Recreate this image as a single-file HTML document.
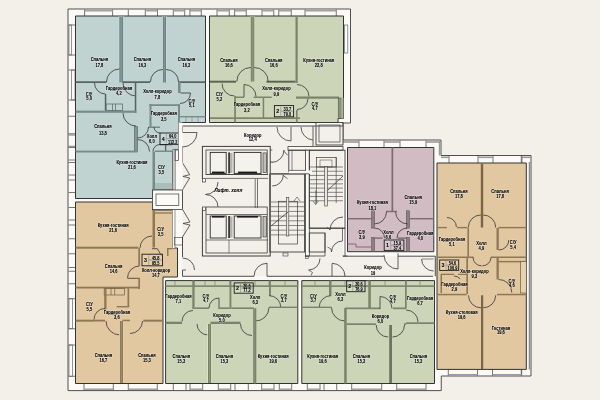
<!DOCTYPE html>
<html><head><meta charset="utf-8"><style>html,body{margin:0;padding:0;background:#f3f0e9;overflow:hidden}svg{display:block}</style></head>
<body><svg width="600" height="400" viewBox="0 0 600 400"><rect width="600" height="400" fill="#f3f0e9"/><polygon points="68,9 350.5,9 350.5,123 343,123 343,140 441,140 441,155.5 531,155.5 531,376 441.25,376 441.25,390.6 68,390.6" fill="#fbfaf6" stroke="#505050" stroke-width="1"/><line x1="84.6" y1="9.5" x2="84.6" y2="16" stroke="#555" stroke-width="0.8"/><line x1="112.6" y1="9.5" x2="112.6" y2="16" stroke="#555" stroke-width="0.8"/><line x1="128.3" y1="9.5" x2="128.3" y2="16" stroke="#555" stroke-width="0.8"/><line x1="145.3" y1="9.5" x2="145.3" y2="16" stroke="#555" stroke-width="0.8"/><line x1="157.5" y1="9.5" x2="157.5" y2="16" stroke="#555" stroke-width="0.8"/><line x1="173.3" y1="9.5" x2="173.3" y2="16" stroke="#555" stroke-width="0.8"/><line x1="184.7" y1="9.5" x2="184.7" y2="16" stroke="#555" stroke-width="0.8"/><line x1="189.9" y1="9.5" x2="189.9" y2="16" stroke="#555" stroke-width="0.8"/><line x1="201.3" y1="9.5" x2="201.3" y2="16" stroke="#555" stroke-width="0.8"/><line x1="217" y1="9.5" x2="217" y2="16" stroke="#555" stroke-width="0.8"/><line x1="229.3" y1="9.5" x2="229.3" y2="16" stroke="#555" stroke-width="0.8"/><line x1="234.6" y1="9.5" x2="234.6" y2="16" stroke="#555" stroke-width="0.8"/><line x1="246.25" y1="9.5" x2="246.25" y2="16" stroke="#555" stroke-width="0.8"/><line x1="262" y1="9.5" x2="262" y2="16" stroke="#555" stroke-width="0.8"/><line x1="273.75" y1="9.5" x2="273.75" y2="16" stroke="#555" stroke-width="0.8"/><line x1="278.75" y1="9.5" x2="278.75" y2="16" stroke="#555" stroke-width="0.8"/><line x1="291.25" y1="9.5" x2="291.25" y2="16" stroke="#555" stroke-width="0.8"/><line x1="305" y1="9.5" x2="305" y2="16" stroke="#555" stroke-width="0.8"/><line x1="336.25" y1="9.5" x2="336.25" y2="16" stroke="#555" stroke-width="0.8"/><line x1="84.6" y1="10.8" x2="112.6" y2="10.8" stroke="#9a9a9a" stroke-width="1.4"/><line x1="145.3" y1="10.8" x2="157.5" y2="10.8" stroke="#9a9a9a" stroke-width="1.4"/><line x1="173.3" y1="10.8" x2="184.7" y2="10.8" stroke="#9a9a9a" stroke-width="1.4"/><line x1="189.9" y1="10.8" x2="201.3" y2="10.8" stroke="#9a9a9a" stroke-width="1.4"/><line x1="217" y1="10.8" x2="229.3" y2="10.8" stroke="#9a9a9a" stroke-width="1.4"/><line x1="234.6" y1="10.8" x2="246.25" y2="10.8" stroke="#9a9a9a" stroke-width="1.4"/><line x1="262" y1="10.8" x2="273.75" y2="10.8" stroke="#9a9a9a" stroke-width="1.4"/><line x1="278.75" y1="10.8" x2="291.25" y2="10.8" stroke="#9a9a9a" stroke-width="1.4"/><line x1="305" y1="10.8" x2="336.25" y2="10.8" stroke="#9a9a9a" stroke-width="1.4"/><line x1="68.5" y1="25" x2="75.5" y2="25" stroke="#555" stroke-width="0.8"/><line x1="68.5" y1="55" x2="75.5" y2="55" stroke="#555" stroke-width="0.8"/><line x1="68.5" y1="70" x2="75.5" y2="70" stroke="#555" stroke-width="0.8"/><line x1="68.5" y1="100" x2="75.5" y2="100" stroke="#555" stroke-width="0.8"/><line x1="68.5" y1="116.25" x2="75.5" y2="116.25" stroke="#555" stroke-width="0.8"/><line x1="68.5" y1="133.75" x2="75.5" y2="133.75" stroke="#555" stroke-width="0.8"/><line x1="68.5" y1="135" x2="75.5" y2="135" stroke="#555" stroke-width="0.8"/><line x1="68.5" y1="146.25" x2="75.5" y2="146.25" stroke="#555" stroke-width="0.8"/><line x1="68.5" y1="147.5" x2="75.5" y2="147.5" stroke="#555" stroke-width="0.8"/><line x1="68.5" y1="160" x2="75.5" y2="160" stroke="#555" stroke-width="0.8"/><line x1="68.5" y1="162.5" x2="75.5" y2="162.5" stroke="#555" stroke-width="0.8"/><line x1="68.5" y1="175" x2="75.5" y2="175" stroke="#555" stroke-width="0.8"/><line x1="68.5" y1="180" x2="75.5" y2="180" stroke="#555" stroke-width="0.8"/><line x1="68.5" y1="192.5" x2="75.5" y2="192.5" stroke="#555" stroke-width="0.8"/><line x1="68.5" y1="207.5" x2="75.5" y2="207.5" stroke="#555" stroke-width="0.8"/><line x1="68.5" y1="220" x2="75.5" y2="220" stroke="#555" stroke-width="0.8"/><line x1="68.5" y1="225" x2="75.5" y2="225" stroke="#555" stroke-width="0.8"/><line x1="68.5" y1="238.75" x2="75.5" y2="238.75" stroke="#555" stroke-width="0.8"/><line x1="68.5" y1="253.75" x2="75.5" y2="253.75" stroke="#555" stroke-width="0.8"/><line x1="68.5" y1="267.5" x2="75.5" y2="267.5" stroke="#555" stroke-width="0.8"/><line x1="68.5" y1="271.25" x2="75.5" y2="271.25" stroke="#555" stroke-width="0.8"/><line x1="68.5" y1="283.75" x2="75.5" y2="283.75" stroke="#555" stroke-width="0.8"/><line x1="68.5" y1="298.75" x2="75.5" y2="298.75" stroke="#555" stroke-width="0.8"/><line x1="68.5" y1="328.75" x2="75.5" y2="328.75" stroke="#555" stroke-width="0.8"/><line x1="68.5" y1="345" x2="75.5" y2="345" stroke="#555" stroke-width="0.8"/><line x1="68.5" y1="376.25" x2="75.5" y2="376.25" stroke="#555" stroke-width="0.8"/><rect x="69" y="25" width="2.4" height="30" fill="none" stroke="#666" stroke-width="0.7"/><rect x="71.4" y="70" width="3.6" height="30" fill="none" stroke="#666" stroke-width="0.7"/><rect x="69" y="298.75" width="3.4" height="30" fill="none" stroke="#666" stroke-width="0.7"/><rect x="69" y="345" width="3.4" height="31.25" fill="none" stroke="#666" stroke-width="0.7"/><line x1="84" y1="383.5" x2="84" y2="390.3" stroke="#555" stroke-width="0.8"/><line x1="113.3" y1="383.5" x2="113.3" y2="390.3" stroke="#555" stroke-width="0.8"/><line x1="128.3" y1="383.5" x2="128.3" y2="390.3" stroke="#555" stroke-width="0.8"/><line x1="157.3" y1="383.5" x2="157.3" y2="390.3" stroke="#555" stroke-width="0.8"/><line x1="173.3" y1="383.5" x2="173.3" y2="390.3" stroke="#555" stroke-width="0.8"/><line x1="186" y1="383.5" x2="186" y2="390.3" stroke="#555" stroke-width="0.8"/><line x1="190" y1="383.5" x2="190" y2="390.3" stroke="#555" stroke-width="0.8"/><line x1="202.7" y1="383.5" x2="202.7" y2="390.3" stroke="#555" stroke-width="0.8"/><line x1="218.3" y1="383.5" x2="218.3" y2="390.3" stroke="#555" stroke-width="0.8"/><line x1="230.7" y1="383.5" x2="230.7" y2="390.3" stroke="#555" stroke-width="0.8"/><line x1="235" y1="383.5" x2="235" y2="390.3" stroke="#555" stroke-width="0.8"/><line x1="248.3" y1="383.5" x2="248.3" y2="390.3" stroke="#555" stroke-width="0.8"/><line x1="261.7" y1="383.5" x2="261.7" y2="390.3" stroke="#555" stroke-width="0.8"/><line x1="274" y1="383.5" x2="274" y2="390.3" stroke="#555" stroke-width="0.8"/><line x1="279.3" y1="383.5" x2="279.3" y2="390.3" stroke="#555" stroke-width="0.8"/><line x1="291.7" y1="383.5" x2="291.7" y2="390.3" stroke="#555" stroke-width="0.8"/><line x1="307.3" y1="383.5" x2="307.3" y2="390.3" stroke="#555" stroke-width="0.8"/><line x1="320" y1="383.5" x2="320" y2="390.3" stroke="#555" stroke-width="0.8"/><line x1="324" y1="383.5" x2="324" y2="390.3" stroke="#555" stroke-width="0.8"/><line x1="336.7" y1="383.5" x2="336.7" y2="390.3" stroke="#555" stroke-width="0.8"/><line x1="351.7" y1="383.5" x2="351.7" y2="390.3" stroke="#555" stroke-width="0.8"/><line x1="381.7" y1="383.5" x2="381.7" y2="390.3" stroke="#555" stroke-width="0.8"/><line x1="396.7" y1="383.5" x2="396.7" y2="390.3" stroke="#555" stroke-width="0.8"/><line x1="426" y1="383.5" x2="426" y2="390.3" stroke="#555" stroke-width="0.8"/><line x1="84" y1="389.2" x2="113.3" y2="389.2" stroke="#9a9a9a" stroke-width="1.4"/><line x1="128.3" y1="389.2" x2="157.3" y2="389.2" stroke="#9a9a9a" stroke-width="1.4"/><line x1="190" y1="389.2" x2="202.7" y2="389.2" stroke="#9a9a9a" stroke-width="1.4"/><line x1="218.3" y1="389.2" x2="230.7" y2="389.2" stroke="#9a9a9a" stroke-width="1.4"/><line x1="261.7" y1="389.2" x2="274" y2="389.2" stroke="#9a9a9a" stroke-width="1.4"/><line x1="279.3" y1="389.2" x2="291.7" y2="389.2" stroke="#9a9a9a" stroke-width="1.4"/><line x1="307.3" y1="389.2" x2="320" y2="389.2" stroke="#9a9a9a" stroke-width="1.4"/><line x1="351.7" y1="389.2" x2="381.7" y2="389.2" stroke="#9a9a9a" stroke-width="1.4"/><line x1="396.7" y1="389.2" x2="426" y2="389.2" stroke="#9a9a9a" stroke-width="1.4"/><rect x="344.4" y="25" width="3.4" height="28" fill="#fbfaf6" stroke="#666" stroke-width="0.7"/><line x1="359" y1="140.5" x2="359" y2="147.5" stroke="#555" stroke-width="0.8"/><line x1="384" y1="140.5" x2="384" y2="147.5" stroke="#555" stroke-width="0.8"/><line x1="400" y1="140.5" x2="400" y2="147.5" stroke="#555" stroke-width="0.8"/><line x1="426" y1="140.5" x2="426" y2="147.5" stroke="#555" stroke-width="0.8"/><line x1="343" y1="142" x2="359" y2="142" stroke="#9a9a9a" stroke-width="1.6"/><line x1="384" y1="142" x2="400" y2="142" stroke="#9a9a9a" stroke-width="1.6"/><line x1="426" y1="142" x2="441" y2="142" stroke="#9a9a9a" stroke-width="1.6"/><line x1="439.5" y1="140.5" x2="439.5" y2="155.5" stroke="#9a9a9a" stroke-width="1.4"/><line x1="449" y1="155.8" x2="449" y2="163" stroke="#555" stroke-width="0.8"/><line x1="478" y1="155.8" x2="478" y2="163" stroke="#555" stroke-width="0.8"/><line x1="493" y1="155.8" x2="493" y2="163" stroke="#555" stroke-width="0.8"/><line x1="522" y1="155.8" x2="522" y2="163" stroke="#555" stroke-width="0.8"/><line x1="441" y1="157.3" x2="449" y2="157.3" stroke="#9a9a9a" stroke-width="1.6"/><line x1="478" y1="157.3" x2="493" y2="157.3" stroke="#9a9a9a" stroke-width="1.6"/><line x1="522" y1="157.3" x2="531" y2="157.3" stroke="#9a9a9a" stroke-width="1.6"/><line x1="529.4" y1="162" x2="529.4" y2="369.5" stroke="#8a8a8a" stroke-width="1.3"/><line x1="521.25" y1="155.8" x2="521.25" y2="163" stroke="#555" stroke-width="0.8"/><line x1="521.25" y1="369.4" x2="521.25" y2="376" stroke="#555" stroke-width="0.8"/><line x1="448.3" y1="369.4" x2="448.3" y2="376" stroke="#555" stroke-width="0.8"/><line x1="477.5" y1="369.4" x2="477.5" y2="376" stroke="#555" stroke-width="0.8"/><line x1="492.5" y1="369.4" x2="492.5" y2="376" stroke="#555" stroke-width="0.8"/><line x1="521.7" y1="369.4" x2="521.7" y2="376" stroke="#555" stroke-width="0.8"/><line x1="448.3" y1="374.8" x2="477.5" y2="374.8" stroke="#9a9a9a" stroke-width="1.6"/><line x1="492.5" y1="374.8" x2="521.7" y2="374.8" stroke="#9a9a9a" stroke-width="1.6"/><polygon points="182.5,126 343,126 343,256.2 435.3,256.2 435.3,276.3 182.5,276.3" fill="#f3f0ea" stroke="none" stroke-width="1"/><polygon points="75.5,16 205.5,16 205.5,122.5 178.5,122.5 178.5,150 172.5,150 172.5,190 152.5,190 152.5,198.5 75.5,198.5" fill="#c1d3d0" stroke="#333333" stroke-width="1"/><polygon points="209.5,16 343.5,16 343.5,118.5 338,118.5 338,122.5 209.5,122.5" fill="#cdd5b9" stroke="#333333" stroke-width="1"/><polygon points="75.5,202 152.5,202 152.5,210 172.5,210 172.5,248 177.5,248 177.5,277 163,277 163,383.5 75.5,383.5" fill="#e2c8a0" stroke="#333333" stroke-width="1"/><polygon points="347.5,147.5 433.8,147.5 433.8,251.7 347.5,251.7" fill="#d1bcc3" stroke="#333333" stroke-width="1"/><polygon points="437,163 526.3,163 526.3,369.4 437,369.4" fill="#e2c8a0" stroke="#333333" stroke-width="1"/><polygon points="165.6,280.6 297.8,280.6 297.8,383.5 165.6,383.5" fill="#cdd5b9" stroke="#333333" stroke-width="1"/><polygon points="301.8,280.6 434.5,280.6 434.5,383.5 301.8,383.5" fill="#cdd5b9" stroke="#333333" stroke-width="1"/><rect x="118.75" y="16.5" width="5.15" height="66" fill="#d8e6e4" stroke="none" stroke-width="1"/><rect x="119.55" y="16.5" width="3.55" height="66" fill="#7f9794" stroke="none" stroke-width="1"/><rect x="119.55" y="16.5" width="0.6" height="66" fill="#627674" stroke="none" stroke-width="1"/><rect x="122.5" y="16.5" width="0.6" height="66" fill="#627674" stroke="none" stroke-width="1"/><rect x="162.1" y="16.5" width="4.75" height="66" fill="#d8e6e4" stroke="none" stroke-width="1"/><rect x="162.9" y="16.5" width="3.15" height="66" fill="#7f9794" stroke="none" stroke-width="1"/><rect x="162.9" y="16.5" width="0.6" height="66" fill="#627674" stroke="none" stroke-width="1"/><rect x="165.45" y="16.5" width="0.6" height="66" fill="#627674" stroke="none" stroke-width="1"/><rect x="75.5" y="81.3" width="31" height="1.7" fill="#55625f" stroke="none" stroke-width="1"/><rect x="122.6" y="81.3" width="27.4" height="1.7" fill="#55625f" stroke="none" stroke-width="1"/><rect x="179" y="81.3" width="26.5" height="1.7" fill="#55625f" stroke="none" stroke-width="1"/><path d="M106.5,82 A13,13 0 0 1 119.5,69" stroke="#333333" stroke-width="0.8" fill="none"/><path d="M150.4,82 A12.5,12.5 0 0 1 162.9,69.5" stroke="#333333" stroke-width="0.8" fill="none"/><path d="M166.05,69.5 A12.5,12.5 0 0 1 178.55,82" stroke="#333333" stroke-width="0.8" fill="none"/><path d="M136,96 A13,13 0 0 1 123,83" stroke="#333333" stroke-width="0.8" fill="none"/><path d="M105.5,94 A11,11 0 0 1 94.5,83" stroke="#333333" stroke-width="0.8" fill="none"/><rect x="104.8" y="94" width="1.5" height="16.6" fill="#55625f" stroke="none" stroke-width="1"/><rect x="134.8" y="83" width="1.5" height="30" fill="#55625f" stroke="none" stroke-width="1"/><rect x="75.5" y="110.6" width="60.8" height="2.2" fill="#778b88" stroke="none" stroke-width="1"/><rect x="106" y="104" width="16.6" height="6.6" fill="none" stroke="#55625f" stroke-width="0.7"/><line x1="112.5" y1="104" x2="112.5" y2="110.6" stroke="#55625f" stroke-width="0.7"/><line x1="115.5" y1="104" x2="115.5" y2="110.6" stroke="#55625f" stroke-width="0.7"/><path d="M136,126 A13,13 0 0 1 123,113" stroke="#333333" stroke-width="0.8" fill="none"/><rect x="134.5" y="126.5" width="3" height="25" fill="#7f9794" stroke="#4a4a4a" stroke-width="0.5"/><rect x="75.5" y="150.6" width="62" height="1.9" fill="#778b88" stroke="none" stroke-width="1"/><rect x="178" y="82" width="2.6" height="11" fill="#778b88" stroke="none" stroke-width="1"/><line x1="180.6" y1="93" x2="190.5" y2="93" stroke="#333333" stroke-width="0.8"/><path d="M190.5,93 A10.5,10.5 0 0 1 180,103.5" stroke="#333333" stroke-width="0.8" fill="none"/><rect x="180" y="116" width="25.5" height="1.4" fill="#778b88" stroke="none" stroke-width="1"/><line x1="186" y1="117.4" x2="186" y2="122.5" stroke="#6c7f7d" stroke-width="0.6"/><line x1="192" y1="117.4" x2="192" y2="122.5" stroke="#6c7f7d" stroke-width="0.6"/><line x1="198" y1="117.4" x2="198" y2="122.5" stroke="#6c7f7d" stroke-width="0.6"/><rect x="149.4" y="104.2" width="30.6" height="1.8" fill="#778b88" stroke="none" stroke-width="1"/><rect x="149.5" y="104.2" width="2" height="23.8" fill="#778b88" stroke="none" stroke-width="1"/><rect x="178" y="104.2" width="2" height="18.3" fill="#778b88" stroke="none" stroke-width="1"/><rect x="148.5" y="126.5" width="11.5" height="1.5" fill="#778b88" stroke="none" stroke-width="1"/><path d="M148.5,127 A11,11 0 0 1 137.5,138" stroke="#333333" stroke-width="0.8" fill="none"/><path d="M137.5,139.5 A12,12 0 0 1 149.5,151.5" stroke="#333333" stroke-width="0.8" fill="none"/><path d="M160,133 A6,6 0 0 1 154,127" stroke="#333333" stroke-width="0.8" fill="none"/><path d="M153,151.5 A7,7 0 0 1 160,144.5" stroke="#333333" stroke-width="0.8" fill="none"/><rect x="160" y="144" width="12" height="1.5" fill="#778b88" stroke="none" stroke-width="1"/><rect x="165" y="144" width="1.3" height="7.5" fill="#55625f" stroke="none" stroke-width="1"/><rect x="152.5" y="151.5" width="2.5" height="38.5" fill="#778b88" stroke="none" stroke-width="1"/><rect x="155" y="150.5" width="17.5" height="1.5" fill="#778b88" stroke="none" stroke-width="1"/><rect x="155" y="183" width="17.5" height="6" fill="#a9bdba" stroke="none" stroke-width="1"/><rect x="160" y="133" width="19" height="11.5" fill="rgba(255,255,255,0.15)" stroke="#1a1a1a" stroke-width="0.9"/><line x1="166.27" y1="134" x2="166.27" y2="143.5" stroke="#555" stroke-width="0.4"/><line x1="166.84" y1="138.75" x2="178" y2="138.75" stroke="#333" stroke-width="0.4"/><rect x="250" y="16.5" width="5" height="65" fill="#e2e8d0" stroke="none" stroke-width="1"/><rect x="250.8" y="16.5" width="3.4" height="65" fill="#8c967a" stroke="none" stroke-width="1"/><rect x="250.8" y="16.5" width="0.6" height="65" fill="#6a7258" stroke="none" stroke-width="1"/><rect x="253.6" y="16.5" width="0.6" height="65" fill="#6a7258" stroke="none" stroke-width="1"/><rect x="210" y="80.7" width="26" height="2" fill="#5e6650" stroke="none" stroke-width="1"/><rect x="266.5" y="80.7" width="29" height="2" fill="#5e6650" stroke="none" stroke-width="1"/><path d="M236.8,81.5 A14,14 0 0 1 250.8,67.5" stroke="#333333" stroke-width="0.8" fill="none"/><path d="M254.2,67.5 A14,14 0 0 1 268.2,81.5" stroke="#333333" stroke-width="0.8" fill="none"/><path d="M234.5,96 A12.5,12.5 0 0 1 222,83.5" stroke="#333333" stroke-width="0.8" fill="none"/><rect x="234.2" y="96" width="1.7" height="26.5" fill="#7b836a" stroke="none" stroke-width="1"/><rect x="235" y="96.5" width="9" height="1.5" fill="#7b836a" stroke="none" stroke-width="1"/><rect x="253.7" y="96.5" width="18" height="1.5" fill="#7b836a" stroke="none" stroke-width="1"/><path d="M244,84.5 A12,12 0 0 1 256,96.5" stroke="#333333" stroke-width="0.8" fill="none"/><line x1="244" y1="84.5" x2="244" y2="97" stroke="#333333" stroke-width="0.8"/><rect x="262.7" y="98" width="1.5" height="20.5" fill="#7b836a" stroke="none" stroke-width="1"/><rect x="210" y="117.3" width="90" height="1.7" fill="#7b836a" stroke="none" stroke-width="1"/><rect x="295.5" y="16" width="2.2" height="67" fill="#7b836a" stroke="none" stroke-width="1"/><path d="M297,84.5 A12,12 0 0 1 309,96.5" stroke="#333333" stroke-width="0.8" fill="none"/><path d="M308,98.5 A11,11 0 0 1 297,109.5" stroke="#333333" stroke-width="0.8" fill="none"/><rect x="296" y="96.5" width="43" height="2.2" fill="#7b836a" stroke="none" stroke-width="1"/><rect x="296" y="110" width="1.6" height="12.5" fill="#7b836a" stroke="none" stroke-width="1"/><rect x="338.2" y="98" width="3" height="20.5" fill="#8c967a" stroke="#4a4a4a" stroke-width="0.5"/><rect x="341.2" y="98" width="2.3" height="20.5" fill="#a9b396" stroke="none" stroke-width="1"/><rect x="274.4" y="105.6" width="19.2" height="11.2" fill="rgba(255,255,255,0.15)" stroke="#1a1a1a" stroke-width="0.9"/><line x1="280.74" y1="106.6" x2="280.74" y2="115.8" stroke="#555" stroke-width="0.4"/><line x1="281.31" y1="111.2" x2="292.6" y2="111.2" stroke="#333" stroke-width="0.4"/><rect x="391.5" y="147.5" width="1.7" height="63.5" fill="#7c6c73" stroke="none" stroke-width="1"/><rect x="386" y="210.8" width="11" height="1.4" fill="#7c6c73" stroke="none" stroke-width="1"/><rect x="371.6" y="210.8" width="2.9" height="17.3" fill="#8f7d85" stroke="#4a4a4a" stroke-width="0.5"/><rect x="406.4" y="210.8" width="3.1" height="17.3" fill="#8f7d85" stroke="#4a4a4a" stroke-width="0.5"/><rect x="347.5" y="218" width="24.5" height="1.4" fill="#7c6c73" stroke="none" stroke-width="1"/><rect x="410" y="218" width="23.8" height="1.4" fill="#7c6c73" stroke="none" stroke-width="1"/><rect x="371.6" y="237.7" width="2.9" height="14" fill="#8f7d85" stroke="#4a4a4a" stroke-width="0.5"/><rect x="406.4" y="237.7" width="3.1" height="14" fill="#8f7d85" stroke="#4a4a4a" stroke-width="0.5"/><rect x="372.6" y="237.4" width="10" height="1.4" fill="#7c6c73" stroke="none" stroke-width="1"/><rect x="397.6" y="237.4" width="10" height="1.4" fill="#7c6c73" stroke="none" stroke-width="1"/><path d="M386.5,211.9 A12,12 0 0 1 374.5,223.9" stroke="#333333" stroke-width="0.8" fill="none"/><path d="M407.6,223.9 A12,12 0 0 1 395.6,211.9" stroke="#333333" stroke-width="0.8" fill="none"/><path d="M374.5,228.1 A10,10 0 0 1 384.5,238.1" stroke="#333333" stroke-width="0.8" fill="none"/><path d="M397,238.1 A10,10 0 0 1 407,228.1" stroke="#333333" stroke-width="0.8" fill="none"/><path d="M347.5,244 L356,244 L356,247 L372,247" stroke="#7f6d75" stroke-width="1" fill="none"/><rect x="384.2" y="240" width="19.7" height="10.4" fill="rgba(255,255,255,0.15)" stroke="#1a1a1a" stroke-width="0.9"/><line x1="390.7" y1="241" x2="390.7" y2="249.4" stroke="#555" stroke-width="0.4"/><line x1="391.29" y1="245.2" x2="402.9" y2="245.2" stroke="#333" stroke-width="0.4"/><rect x="480.8" y="163.5" width="2.4" height="64" fill="#7a6548" stroke="none" stroke-width="1"/><rect x="437" y="226.9" width="9.9" height="1.4" fill="#8d7957" stroke="none" stroke-width="1"/><rect x="457" y="226.9" width="10.4" height="1.4" fill="#8d7957" stroke="none" stroke-width="1"/><path d="M446.9,217.5 A9.5,9.5 0 0 1 456.4,227" stroke="#333333" stroke-width="0.8" fill="none"/><path d="M468.3,227.5 A12.5,12.5 0 0 1 480.8,215" stroke="#333333" stroke-width="0.8" fill="none"/><path d="M483.2,215 A12.5,12.5 0 0 1 495.7,227.5" stroke="#333333" stroke-width="0.8" fill="none"/><rect x="467.4" y="228" width="1.6" height="29" fill="#8d7957" stroke="none" stroke-width="1"/><rect x="496.5" y="228" width="2.3" height="22" fill="#8d7957" stroke="none" stroke-width="1"/><rect x="498.3" y="226.9" width="28" height="1.4" fill="#8d7957" stroke="none" stroke-width="1"/><path d="M508.8,240 A10,10 0 0 1 498.8,250" stroke="#333333" stroke-width="0.8" fill="none"/><rect x="491" y="256.5" width="35.3" height="1.5" fill="#8d7957" stroke="none" stroke-width="1"/><rect x="437" y="256.5" width="36.5" height="1.5" fill="#8d7957" stroke="none" stroke-width="1"/><path d="M481.5,265.8 A8.5,8.5 0 0 1 473,257.3" stroke="#333333" stroke-width="0.8" fill="none"/><path d="M491,257.3 A8.5,8.5 0 0 1 482.5,265.8" stroke="#333333" stroke-width="0.8" fill="none"/><rect x="439.7" y="260" width="19" height="10.4" fill="rgba(255,255,255,0.15)" stroke="#1a1a1a" stroke-width="0.9"/><line x1="445.97" y1="261" x2="445.97" y2="269.4" stroke="#555" stroke-width="0.4"/><line x1="446.54" y1="265.2" x2="457.7" y2="265.2" stroke="#333" stroke-width="0.4"/><rect x="497.5" y="260.9" width="28.8" height="1.5" fill="#8d7957" stroke="none" stroke-width="1"/><rect x="496.5" y="258" width="2.3" height="21.5" fill="#8d7957" stroke="none" stroke-width="1"/><path d="M498.8,279.5 A13,13 0 0 1 511.8,292.5" stroke="#333333" stroke-width="0.8" fill="none"/><rect x="520.5" y="261.5" width="5.8" height="31.5" fill="#e8d2ad" stroke="#6d5d45" stroke-width="0.7"/><rect x="466.3" y="258" width="1.7" height="36" fill="#8d7957" stroke="none" stroke-width="1"/><rect x="441" y="273.7" width="13" height="1.3" fill="#8d7957" stroke="none" stroke-width="1"/><rect x="458" y="273.7" width="10" height="1.3" fill="#8d7957" stroke="none" stroke-width="1"/><path d="M454,276 A8,8 0 0 1 460.13,278.86" stroke="#333333" stroke-width="0.8" fill="none"/><rect x="440.5" y="274" width="1.5" height="19" fill="#8d7957" stroke="none" stroke-width="1"/><rect x="437" y="293.8" width="29.6" height="1.5" fill="#8d7957" stroke="none" stroke-width="1"/><rect x="497" y="293.8" width="29.3" height="1.5" fill="#8d7957" stroke="none" stroke-width="1"/><rect x="481" y="295.3" width="2.2" height="73.7" fill="#7a6548" stroke="none" stroke-width="1"/><path d="M481,307.8 A12.5,12.5 0 0 1 468.5,295.3" stroke="#333333" stroke-width="0.8" fill="none"/><path d="M495.7,295.3 A12.5,12.5 0 0 1 483.2,307.8" stroke="#333333" stroke-width="0.8" fill="none"/><rect x="152.5" y="210" width="2.5" height="37.5" fill="#8d7957" stroke="none" stroke-width="1"/><rect x="75.5" y="246.7" width="62.8" height="2" fill="#8d7957" stroke="none" stroke-width="1"/><path d="M140,248 A12,12 0 0 1 152,236" stroke="#333333" stroke-width="0.8" fill="none"/><rect x="138.3" y="248" width="1.7" height="17.8" fill="#8d7957" stroke="none" stroke-width="1"/><path d="M127.5,278 A12,12 0 0 1 139.5,266" stroke="#333333" stroke-width="0.8" fill="none"/><line x1="127.5" y1="278.3" x2="140" y2="278.3" stroke="#333333" stroke-width="0.8"/><rect x="138.3" y="278" width="1.7" height="11" fill="#8d7957" stroke="none" stroke-width="1"/><rect x="75.5" y="286.7" width="64.5" height="1.8" fill="#8d7957" stroke="none" stroke-width="1"/><rect x="104.2" y="288.5" width="20.3" height="6.5" fill="none" stroke="#6d5d45" stroke-width="0.7"/><line x1="111" y1="288.5" x2="111" y2="295" stroke="#6d5d45" stroke-width="0.7"/><line x1="114.7" y1="288.5" x2="114.7" y2="295" stroke="#6d5d45" stroke-width="0.7"/><rect x="104.2" y="288.5" width="2.3" height="21" fill="#8d7957" stroke="none" stroke-width="1"/><rect x="127.5" y="288.5" width="1.7" height="18.2" fill="#8d7957" stroke="none" stroke-width="1"/><rect x="116.7" y="306" width="12.5" height="1.4" fill="#8d7957" stroke="none" stroke-width="1"/><path d="M94,319.5 A11,11 0 0 1 105,308.5" stroke="#333333" stroke-width="0.8" fill="none"/><rect x="75.5" y="319.7" width="18.5" height="2" fill="#8d7957" stroke="none" stroke-width="1"/><rect x="94" y="319.7" width="11" height="1.8" fill="#8d7957" stroke="none" stroke-width="1"/><path d="M120,335 A14,14 0 0 1 106,321" stroke="#333333" stroke-width="0.8" fill="none"/><rect x="119.1" y="321" width="4.75" height="62" fill="#f3dfba" stroke="none" stroke-width="1"/><rect x="119.9" y="321" width="3.15" height="62" fill="#a08a68" stroke="none" stroke-width="1"/><rect x="119.9" y="321" width="0.6" height="62" fill="#7f6c4d" stroke="none" stroke-width="1"/><rect x="122.45" y="321" width="0.6" height="62" fill="#7f6c4d" stroke="none" stroke-width="1"/><path d="M142.5,321 A12.5,12.5 0 0 1 130,333.5" stroke="#333333" stroke-width="0.8" fill="none"/><rect x="122.5" y="319.7" width="7.5" height="1.5" fill="#8d7957" stroke="none" stroke-width="1"/><rect x="143.3" y="319.7" width="19.7" height="2" fill="#8d7957" stroke="none" stroke-width="1"/><rect x="142" y="254.2" width="20.5" height="11.6" fill="rgba(255,255,255,0.15)" stroke="#1a1a1a" stroke-width="0.9"/><line x1="148.76" y1="255.2" x2="148.76" y2="264.8" stroke="#555" stroke-width="0.4"/><line x1="149.38" y1="260" x2="161.5" y2="260" stroke="#333" stroke-width="0.4"/><line x1="155" y1="213" x2="172.5" y2="213" stroke="#85714f" stroke-width="1.2"/><line x1="152" y1="248.7" x2="157.3" y2="248.7" stroke="#333333" stroke-width="0.8"/><line x1="157.3" y1="248.7" x2="161.2" y2="255.3" stroke="#333333" stroke-width="0.8"/><rect x="167" y="248" width="1.5" height="8" fill="#8d7957" stroke="none" stroke-width="1"/><rect x="167" y="248" width="5.5" height="1.3" fill="#8d7957" stroke="none" stroke-width="1"/><rect x="172.5" y="210" width="2.5" height="38" fill="#fbfaf6" stroke="none" stroke-width="1"/><line x1="175" y1="210" x2="175" y2="248" stroke="#555" stroke-width="0.6"/><rect x="165.6" y="285.3" width="132.2" height="1.6" fill="#7b836a" stroke="none" stroke-width="1"/><line x1="175" y1="280.6" x2="175" y2="285.3" stroke="#6a7258" stroke-width="0.6"/><line x1="194" y1="280.6" x2="194" y2="285.3" stroke="#6a7258" stroke-width="0.6"/><line x1="205" y1="280.6" x2="205" y2="285.3" stroke="#6a7258" stroke-width="0.6"/><line x1="215" y1="280.6" x2="215" y2="285.3" stroke="#6a7258" stroke-width="0.6"/><line x1="230" y1="280.6" x2="230" y2="285.3" stroke="#6a7258" stroke-width="0.6"/><line x1="245" y1="280.6" x2="245" y2="285.3" stroke="#6a7258" stroke-width="0.6"/><line x1="255" y1="280.6" x2="255" y2="285.3" stroke="#6a7258" stroke-width="0.6"/><line x1="269" y1="280.6" x2="269" y2="285.3" stroke="#6a7258" stroke-width="0.6"/><line x1="285" y1="280.6" x2="285" y2="285.3" stroke="#6a7258" stroke-width="0.6"/><line x1="297.8" y1="280.6" x2="297.8" y2="285.3" stroke="#6a7258" stroke-width="0.6"/><rect x="192.3" y="280.6" width="2.3" height="28.4" fill="#7b836a" stroke="none" stroke-width="1"/><rect x="229.5" y="280.6" width="1.9" height="28.4" fill="#7b836a" stroke="none" stroke-width="1"/><rect x="194.6" y="307.4" width="14.3" height="1.6" fill="#7b836a" stroke="none" stroke-width="1"/><path d="M209,308 A10,10 0 0 1 219,298" stroke="#333333" stroke-width="0.8" fill="none"/><line x1="219" y1="298" x2="219" y2="309" stroke="#333333" stroke-width="0.8"/><rect x="219" y="307.4" width="10.5" height="1.6" fill="#7b836a" stroke="none" stroke-width="1"/><rect x="231.4" y="307.4" width="22.6" height="1.6" fill="#7b836a" stroke="none" stroke-width="1"/><path d="M182,321.5 A11,11 0 0 1 193,310.5" stroke="#333333" stroke-width="0.8" fill="none"/><rect x="165.6" y="321.7" width="16.4" height="2.3" fill="#7b836a" stroke="none" stroke-width="1"/><path d="M208,335 A11,11 0 0 1 197,324" stroke="#333333" stroke-width="0.8" fill="none"/><rect x="207.25" y="324" width="4.6" height="59" fill="#e2e8d0" stroke="none" stroke-width="1"/><rect x="208.05" y="324" width="3" height="59" fill="#8c967a" stroke="none" stroke-width="1"/><rect x="208.05" y="324" width="0.6" height="59" fill="#6a7258" stroke="none" stroke-width="1"/><rect x="210.45" y="324" width="0.6" height="59" fill="#6a7258" stroke="none" stroke-width="1"/><rect x="210.5" y="321.7" width="30" height="2.3" fill="#7b836a" stroke="none" stroke-width="1"/><path d="M252,335.5 A11.5,11.5 0 0 1 240.5,324" stroke="#333333" stroke-width="0.8" fill="none"/><rect x="253.2" y="309" width="1.6" height="74.5" fill="#7b836a" stroke="none" stroke-width="1"/><rect x="234.2" y="282.9" width="19" height="10.3" fill="rgba(255,255,255,0.15)" stroke="#1a1a1a" stroke-width="0.9"/><line x1="240.47" y1="283.9" x2="240.47" y2="292.2" stroke="#555" stroke-width="0.4"/><line x1="241.04" y1="288.05" x2="252.2" y2="288.05" stroke="#333" stroke-width="0.4"/><rect x="269" y="280.6" width="1.9" height="15" fill="#7b836a" stroke="none" stroke-width="1"/><path d="M269,295.6 A11.8,11.8 0 0 1 280.8,307.4" stroke="#333333" stroke-width="0.8" fill="none"/><rect x="269" y="306.6" width="28.8" height="1.4" fill="#7b836a" stroke="none" stroke-width="1"/><path d="M269,307.5 A13.5,13.5 0 0 1 255.5,321" stroke="#333333" stroke-width="0.8" fill="none"/><rect x="254.7" y="308" width="1.6" height="75.5" fill="#7b836a" stroke="none" stroke-width="1"/><rect x="301.8" y="285.3" width="132.7" height="1.6" fill="#7b836a" stroke="none" stroke-width="1"/><line x1="315" y1="280.6" x2="315" y2="285.3" stroke="#6a7258" stroke-width="0.6"/><line x1="330" y1="280.6" x2="330" y2="285.3" stroke="#6a7258" stroke-width="0.6"/><line x1="345" y1="280.6" x2="345" y2="285.3" stroke="#6a7258" stroke-width="0.6"/><line x1="358" y1="280.6" x2="358" y2="285.3" stroke="#6a7258" stroke-width="0.6"/><line x1="370" y1="280.6" x2="370" y2="285.3" stroke="#6a7258" stroke-width="0.6"/><line x1="385" y1="280.6" x2="385" y2="285.3" stroke="#6a7258" stroke-width="0.6"/><line x1="406" y1="280.6" x2="406" y2="285.3" stroke="#6a7258" stroke-width="0.6"/><line x1="420" y1="280.6" x2="420" y2="285.3" stroke="#6a7258" stroke-width="0.6"/><rect x="329" y="280.6" width="2.5" height="15" fill="#7b836a" stroke="none" stroke-width="1"/><path d="M319.2,307.4 A11.8,11.8 0 0 1 331,295.6" stroke="#333333" stroke-width="0.8" fill="none"/><rect x="301.8" y="306.6" width="29.7" height="1.4" fill="#7b836a" stroke="none" stroke-width="1"/><path d="M345,321 A13.5,13.5 0 0 1 331.5,307.5" stroke="#333333" stroke-width="0.8" fill="none"/><rect x="344.2" y="308" width="2.5" height="75.5" fill="#7b836a" stroke="none" stroke-width="1"/><rect x="346.7" y="280.8" width="18.3" height="10.9" fill="rgba(255,255,255,0.15)" stroke="#1a1a1a" stroke-width="0.9"/><line x1="352.74" y1="281.8" x2="352.74" y2="290.7" stroke="#555" stroke-width="0.4"/><line x1="353.29" y1="286.25" x2="364" y2="286.25" stroke="#333" stroke-width="0.4"/><rect x="368.3" y="280.6" width="2.5" height="27.7" fill="#7b836a" stroke="none" stroke-width="1"/><rect x="405" y="280.6" width="1.7" height="27.7" fill="#7b836a" stroke="none" stroke-width="1"/><rect x="345" y="307.5" width="35" height="1.7" fill="#7b836a" stroke="none" stroke-width="1"/><path d="M380,296.5 A12,12 0 0 1 392,308.5" stroke="#333333" stroke-width="0.8" fill="none"/><line x1="380" y1="296.5" x2="380" y2="309" stroke="#333333" stroke-width="0.8"/><rect x="393" y="307.5" width="13" height="1.7" fill="#7b836a" stroke="none" stroke-width="1"/><path d="M406,310 A12,12 0 0 1 418,322" stroke="#333333" stroke-width="0.8" fill="none"/><rect x="406" y="322.3" width="28.5" height="1.7" fill="#7b836a" stroke="none" stroke-width="1"/><rect x="346.7" y="323.3" width="29.3" height="1.7" fill="#7b836a" stroke="none" stroke-width="1"/><rect x="404" y="323.3" width="2" height="1.7" fill="#7b836a" stroke="none" stroke-width="1"/><path d="M388.2,337 A12,12 0 0 1 376.2,325" stroke="#333333" stroke-width="0.8" fill="none"/><path d="M404.5,325 A12,12 0 0 1 392.5,337" stroke="#333333" stroke-width="0.8" fill="none"/><rect x="389.2" y="325" width="2.8" height="58" fill="#6d7560" stroke="none" stroke-width="1"/><line x1="182.5" y1="126" x2="343" y2="126" stroke="#3c3c3c" stroke-width="0.9"/><line x1="182.5" y1="126" x2="182.5" y2="132.5" stroke="#3c3c3c" stroke-width="0.9"/><line x1="182.5" y1="132.5" x2="197" y2="132.5" stroke="#3c3c3c" stroke-width="0.8"/><path d="M197,132.5 A14.5,14.5 0 0 1 182.5,147" stroke="#333333" stroke-width="0.8" fill="none"/><line x1="182.5" y1="146" x2="182.5" y2="162.4" stroke="#3c3c3c" stroke-width="0.9"/><path d="M182.4,162.5 L189.7,174.7 L182.8,176.4 L189.7,178 L182.4,190" stroke="#3c3c3c" stroke-width="0.8" fill="none"/><line x1="182.5" y1="191.7" x2="182.5" y2="208" stroke="#3c3c3c" stroke-width="0.9"/><rect x="173" y="192" width="9.5" height="15.5" fill="none" stroke="#3c3c3c" stroke-width="0.6"/><path d="M182.5,209.4 L190,222 L183,223.5 L190,225 L182.5,237" stroke="#3c3c3c" stroke-width="0.8" fill="none"/><line x1="182.5" y1="237" x2="182.5" y2="257" stroke="#3c3c3c" stroke-width="0.9"/><rect x="174.4" y="237.5" width="8.1" height="7.5" fill="none" stroke="#3c3c3c" stroke-width="0.6"/><line x1="182.5" y1="270" x2="182.5" y2="276.3" stroke="#3c3c3c" stroke-width="0.9"/><path d="M182.5,258 A12,12 0 0 1 194.5,270" stroke="#333333" stroke-width="0.8" fill="none"/><line x1="182.5" y1="270" x2="186" y2="270" stroke="#3c3c3c" stroke-width="0.8"/><line x1="182.5" y1="276.3" x2="254" y2="276.3" stroke="#3c3c3c" stroke-width="0.9"/><line x1="267" y1="276.3" x2="433" y2="276.3" stroke="#3c3c3c" stroke-width="0.9"/><line x1="267" y1="263" x2="267" y2="276.3" stroke="#3c3c3c" stroke-width="0.8"/><path d="M254,276.3 A13,13 0 0 1 267,263.3" stroke="#333333" stroke-width="0.8" fill="none"/><line x1="343" y1="256.2" x2="384" y2="256.2" stroke="#3c3c3c" stroke-width="0.9"/><line x1="398" y1="256.2" x2="435.3" y2="256.2" stroke="#3c3c3c" stroke-width="0.9"/><line x1="398" y1="253.3" x2="398" y2="269" stroke="#3c3c3c" stroke-width="0.8"/><path d="M398,269 A14,14 0 0 1 384,255" stroke="#333333" stroke-width="0.8" fill="none"/><line x1="435.3" y1="256.2" x2="435.3" y2="276.3" stroke="#3c3c3c" stroke-width="0.9"/><path d="M433.6,271 A12,12 0 0 1 421.6,259" stroke="#333333" stroke-width="0.8" fill="none"/><line x1="422" y1="259" x2="433.6" y2="259" stroke="#3c3c3c" stroke-width="0.6"/><line x1="332" y1="263.5" x2="332" y2="276.3" stroke="#3c3c3c" stroke-width="0.8"/><path d="M332,263.3 A13,13 0 0 1 345,276.3" stroke="#333333" stroke-width="0.8" fill="none"/><rect x="202.4" y="146.4" width="67.8" height="109.6" fill="none" stroke="#3c3c3c" stroke-width="1"/><rect x="206" y="150" width="61.2" height="24.6" fill="none" stroke="#3c3c3c" stroke-width="0.8"/><rect x="206" y="207" width="61.2" height="46" fill="none" stroke="#3c3c3c" stroke-width="0.8"/><rect x="210.2" y="152.4" width="16" height="21" fill="#f4f2ec" stroke="#2a2a2a" stroke-width="0.9"/><rect x="234.2" y="152.4" width="26.8" height="21" fill="#f4f2ec" stroke="#2a2a2a" stroke-width="0.9"/><rect x="212" y="171.6" width="12.5" height="1.8" fill="#1a1a1a" stroke="none" stroke-width="1"/><rect x="238" y="171.6" width="19" height="1.8" fill="#1a1a1a" stroke="none" stroke-width="1"/><rect x="228.3" y="152.4" width="1.6" height="21" fill="#1a1a1a" stroke="none" stroke-width="1"/><rect x="229.9" y="152.9" width="2.6" height="20" fill="#b5b3ad" stroke="none" stroke-width="1"/><rect x="263" y="152.9" width="3.4" height="19.5" fill="#c0beb8" stroke="#333" stroke-width="0.6"/><rect x="210.2" y="216" width="16" height="22" fill="#f4f2ec" stroke="#2a2a2a" stroke-width="0.9"/><rect x="234.2" y="216" width="26.8" height="22" fill="#f4f2ec" stroke="#2a2a2a" stroke-width="0.9"/><rect x="212" y="216" width="12.5" height="1.6" fill="#1a1a1a" stroke="none" stroke-width="1"/><rect x="237" y="216" width="21" height="1.6" fill="#1a1a1a" stroke="none" stroke-width="1"/><rect x="228.3" y="216" width="1.6" height="22" fill="#1a1a1a" stroke="none" stroke-width="1"/><rect x="229.9" y="216.5" width="2.6" height="21" fill="#b5b3ad" stroke="none" stroke-width="1"/><rect x="263" y="216.5" width="3.4" height="20.5" fill="#c0beb8" stroke="#333" stroke-width="0.6"/><line x1="206" y1="174.5" x2="268" y2="174.5" stroke="#3c3c3c" stroke-width="0.7"/><line x1="206" y1="178.4" x2="268" y2="178.4" stroke="#3c3c3c" stroke-width="0.7"/><line x1="206" y1="214.5" x2="267.2" y2="214.5" stroke="#3c3c3c" stroke-width="0.7"/><line x1="206" y1="240" x2="268" y2="240" stroke="#3c3c3c" stroke-width="0.7"/><line x1="229" y1="240" x2="229" y2="253" stroke="#3c3c3c" stroke-width="0.6"/><line x1="255.2" y1="179" x2="255.2" y2="208" stroke="#3c3c3c" stroke-width="0.7"/><line x1="257.5" y1="179" x2="257.5" y2="208" stroke="#3c3c3c" stroke-width="0.7"/><rect x="200" y="179.2" width="4" height="28.5" fill="#f3f0ea" stroke="none" stroke-width="1"/><path d="M218,182 A12.5,12.5 0 0 1 205.5,194.5" stroke="#333333" stroke-width="0.8" fill="none"/><path d="M205.5,194.5 A12.5,12.5 0 0 1 218,207" stroke="#333333" stroke-width="0.8" fill="none"/><rect x="202.5" y="178.5" width="3" height="3.5" fill="#fbfaf6" stroke="#3c3c3c" stroke-width="0.7"/><rect x="202.5" y="207" width="3" height="3.5" fill="#fbfaf6" stroke="#3c3c3c" stroke-width="0.7"/><rect x="178.5" y="122.5" width="4" height="27.5" fill="#fbfaf6" stroke="none" stroke-width="1"/><rect x="172.5" y="150" width="10" height="40" fill="#fbfaf6" stroke="none" stroke-width="1"/><line x1="172.9" y1="150" x2="172.9" y2="190" stroke="#3c3c3c" stroke-width="0.7"/><line x1="175.1" y1="150" x2="175.1" y2="190" stroke="#3c3c3c" stroke-width="0.7"/><rect x="175.1" y="150" width="3.4" height="10.5" fill="none" stroke="#3c3c3c" stroke-width="0.7"/><rect x="152.5" y="190" width="30" height="19.4" fill="#fbfaf6" stroke="#3c3c3c" stroke-width="0.8"/><rect x="156" y="194" width="22.8" height="11.6" fill="none" stroke="#3c3c3c" stroke-width="0.7"/><rect x="316" y="122.5" width="27" height="22.5" fill="none" stroke="#3c3c3c" stroke-width="0.9"/><rect x="319" y="125" width="21" height="17" fill="none" stroke="#3c3c3c" stroke-width="0.7"/><path d="M277,127 A14,14 0 0 0 291,141" stroke="#3c3c3c" stroke-width="0.8" fill="none"/><line x1="291" y1="127" x2="291" y2="141" stroke="#3c3c3c" stroke-width="0.8"/><path d="M301,127 A13,13 0 0 0 313,140" stroke="#3c3c3c" stroke-width="0.8" fill="none"/><line x1="313" y1="126" x2="313" y2="146" stroke="#3c3c3c" stroke-width="0.8"/><rect x="288" y="146.6" width="55" height="3.6" fill="#fbfaf6" stroke="#3c3c3c" stroke-width="0.8"/><rect x="288.8" y="150.2" width="17.2" height="21.8" fill="none" stroke="#3c3c3c" stroke-width="0.9"/><line x1="292" y1="150.2" x2="292" y2="171" stroke="#3c3c3c" stroke-width="0.6"/><rect x="305.4" y="150.2" width="3.9" height="105.8" fill="#fbfaf6" stroke="#3c3c3c" stroke-width="0.8"/><rect x="309.3" y="150.2" width="35.7" height="78" fill="none" stroke="#3c3c3c" stroke-width="0.9"/><rect x="316.5" y="157.4" width="19.7" height="9.6" fill="none" stroke="#3c3c3c" stroke-width="0.7"/><line x1="336.2" y1="157.4" x2="336.2" y2="203" stroke="#3c3c3c" stroke-width="0.6"/><line x1="309.3" y1="167" x2="343" y2="167" stroke="#3c3c3c" stroke-width="0.6"/><line x1="309.3" y1="171.22" x2="343" y2="171.22" stroke="#3c3c3c" stroke-width="0.6"/><line x1="309.3" y1="175.44" x2="343" y2="175.44" stroke="#3c3c3c" stroke-width="0.6"/><line x1="309.3" y1="179.66" x2="343" y2="179.66" stroke="#3c3c3c" stroke-width="0.6"/><line x1="309.3" y1="183.88" x2="343" y2="183.88" stroke="#3c3c3c" stroke-width="0.6"/><line x1="309.3" y1="188.1" x2="343" y2="188.1" stroke="#3c3c3c" stroke-width="0.6"/><line x1="309.3" y1="192.32" x2="343" y2="192.32" stroke="#3c3c3c" stroke-width="0.6"/><line x1="309.3" y1="196.54" x2="343" y2="196.54" stroke="#3c3c3c" stroke-width="0.6"/><line x1="309.3" y1="200.76" x2="343" y2="200.76" stroke="#3c3c3c" stroke-width="0.6"/><line x1="316.5" y1="167" x2="316.5" y2="203" stroke="#3c3c3c" stroke-width="0.6"/><rect x="324.7" y="166.5" width="2.7" height="39.5" fill="#e8e6e0" stroke="#3c3c3c" stroke-width="0.6"/><line x1="327.4" y1="190.6" x2="343" y2="176" stroke="#3c3c3c" stroke-width="0.8"/><path d="M313,201 L315.7,204.5 L318.4,201" stroke="#3c3c3c" stroke-width="0.6" fill="none"/><line x1="315.7" y1="190" x2="315.7" y2="204.5" stroke="#3c3c3c" stroke-width="0.5"/><rect x="320" y="160" width="12" height="7" fill="none" stroke="#3c3c3c" stroke-width="0.5"/><rect x="269.8" y="174" width="34.8" height="78" fill="none" stroke="#3c3c3c" stroke-width="0.9"/><line x1="271" y1="202" x2="304.6" y2="202" stroke="#3c3c3c" stroke-width="0.6"/><line x1="271" y1="206.7" x2="304.6" y2="206.7" stroke="#3c3c3c" stroke-width="0.6"/><line x1="271" y1="211.4" x2="304.6" y2="211.4" stroke="#3c3c3c" stroke-width="0.6"/><line x1="271" y1="216.1" x2="304.6" y2="216.1" stroke="#3c3c3c" stroke-width="0.6"/><line x1="271" y1="220.8" x2="304.6" y2="220.8" stroke="#3c3c3c" stroke-width="0.6"/><line x1="271" y1="225.5" x2="304.6" y2="225.5" stroke="#3c3c3c" stroke-width="0.6"/><line x1="271" y1="230.2" x2="304.6" y2="230.2" stroke="#3c3c3c" stroke-width="0.6"/><line x1="271" y1="234.9" x2="304.6" y2="234.9" stroke="#3c3c3c" stroke-width="0.6"/><rect x="278.5" y="201.3" width="19" height="42.7" fill="none" stroke="#3c3c3c" stroke-width="0.7"/><rect x="286.4" y="197.4" width="2.4" height="38.6" fill="#e8e6e0" stroke="#3c3c3c" stroke-width="0.6"/><line x1="271" y1="226" x2="288" y2="212" stroke="#3c3c3c" stroke-width="0.8"/><path d="M294,201 L297,197 L300,201" stroke="#3c3c3c" stroke-width="0.6" fill="none"/><path d="M284,150 A12.4,12.4 0 0 1 271.6,162.4" stroke="#333333" stroke-width="0.8" fill="none"/><path d="M284,150.5 L284,151.2 L287.6,155.3" stroke="#3c3c3c" stroke-width="0.8" fill="none"/><path d="M283.3,175 A11,11 0 0 1 272.3,186" stroke="#333333" stroke-width="0.8" fill="none"/><path d="M283.3,175 L283.3,175.5 L287.5,178.7" stroke="#3c3c3c" stroke-width="0.8" fill="none"/><line x1="270.2" y1="150" x2="272.3" y2="150" stroke="#3c3c3c" stroke-width="0.8"/><line x1="270.2" y1="162" x2="272.3" y2="162" stroke="#3c3c3c" stroke-width="0.8"/><rect x="288.8" y="170.4" width="23.2" height="3.4" fill="#fbfaf6" stroke="none" stroke-width="1"/><line x1="288.8" y1="170.4" x2="306" y2="170.4" stroke="#3c3c3c" stroke-width="0.7"/><line x1="271" y1="173.8" x2="309" y2="173.8" stroke="#3c3c3c" stroke-width="0.8"/><rect x="309.3" y="233" width="15.7" height="19" fill="none" stroke="#3c3c3c" stroke-width="0.9"/><line x1="325" y1="233" x2="325" y2="256" stroke="#3c3c3c" stroke-width="0.7"/><line x1="309.3" y1="228.2" x2="345" y2="228.2" stroke="#3c3c3c" stroke-width="0.9"/><path d="M330,230 A13,13 0 0 1 343,217" stroke="#333333" stroke-width="0.8" fill="none"/><path d="M330,230 L327,227" stroke="#3c3c3c" stroke-width="0.7" fill="none"/><path d="M331.5,252 A11,11 0 0 1 342.5,241" stroke="#333333" stroke-width="0.8" fill="none"/><path d="M331.5,252 L331,249 L327.5,247" stroke="#3c3c3c" stroke-width="0.7" fill="none"/><line x1="305" y1="256" x2="325" y2="256" stroke="#3c3c3c" stroke-width="0.8"/><line x1="342.5" y1="256" x2="347.5" y2="256" stroke="#3c3c3c" stroke-width="0.8"/><line x1="342.5" y1="228.2" x2="342.5" y2="241" stroke="#3c3c3c" stroke-width="0.7"/><line x1="345" y1="228.2" x2="345" y2="256" stroke="#3c3c3c" stroke-width="0.8"/><path d="M320,258.5 A11.5,11.5 0 0 1 308.5,270" stroke="#333333" stroke-width="0.8" fill="none"/><path d="M308.5,270 L312.5,272.5 L311,275.5" stroke="#3c3c3c" stroke-width="0.7" fill="none"/><rect x="305.5" y="256.5" width="3" height="2" fill="none" stroke="#3c3c3c" stroke-width="0.6"/><rect x="283" y="253" width="5" height="3" fill="none" stroke="#3c3c3c" stroke-width="0.6"/><g font-family="Liberation Sans, sans-serif" fill="#0a0a0a" font-size="5.2" font-weight="bold" text-anchor="middle" stroke="rgba(255,255,255,0.35)" stroke-width="1.1" paint-order="stroke" style="opacity:0.999"><text transform="translate(99.4,61.1) scale(0.78,1)" >Спальня</text><text transform="translate(99.4,67.3) scale(0.78,1)" >17,8</text><text transform="translate(142.4,61.1) scale(0.78,1)" >Спальня</text><text transform="translate(142.4,67.3) scale(0.78,1)" >16,3</text><text transform="translate(186.4,61.1) scale(0.78,1)" >Спальня</text><text transform="translate(186.4,67.3) scale(0.78,1)" >16,3</text><text transform="translate(89.1,95.7) scale(0.78,1)" >С/У</text><text transform="translate(89.1,100.1) scale(0.78,1)" >5,0</text><text transform="translate(118.9,89.8) scale(0.78,1)" >Гардеробная</text><text transform="translate(118.9,94.8) scale(0.78,1)" >4,2</text><text transform="translate(157.4,92.8) scale(0.78,1)" >Холл-коридор</text><text transform="translate(157.4,98.8) scale(0.78,1)" >7,8</text><text transform="translate(163.8,115) scale(0.78,1)" >Гардеробная</text><text transform="translate(163.8,120.8) scale(0.78,1)" >3,5</text><text transform="translate(191.9,102.8) scale(0.78,1)" >С/У</text><text transform="translate(191.9,107.3) scale(0.78,1)" >5,1</text><text transform="translate(102.9,128) scale(0.78,1)" >Спальня</text><text transform="translate(102.9,135.2) scale(0.78,1)" >13,8</text><text transform="translate(151.9,137.8) scale(0.78,1)" >Холл</text><text transform="translate(151.9,142.8) scale(0.78,1)" >6,0</text><text transform="translate(131.9,164.3) scale(0.78,1)" >Кухня-гостиная</text><text transform="translate(131.9,169.3) scale(0.78,1)" >21,6</text><text transform="translate(161.4,169.3) scale(0.78,1)" >С/У</text><text transform="translate(161.4,174.3) scale(0.78,1)" >3,5</text><text transform="translate(228.9,61.5) scale(0.78,1)" >Спальня</text><text transform="translate(228.9,66.5) scale(0.78,1)" >16,6</text><text transform="translate(273.7,61.5) scale(0.78,1)" >Спальня</text><text transform="translate(273.7,66.5) scale(0.78,1)" >16,6</text><text transform="translate(318.7,61.5) scale(0.78,1)" >Кухня-гостиная</text><text transform="translate(318.7,66.5) scale(0.78,1)" >22,8</text><text transform="translate(219.4,96.3) scale(0.78,1)" >С/У</text><text transform="translate(219.4,100.8) scale(0.78,1)" >5,2</text><text transform="translate(246.9,106.3) scale(0.78,1)" >Гардеробная</text><text transform="translate(246.9,112) scale(0.78,1)" >3,2</text><text transform="translate(276.4,90.1) scale(0.78,1)" >Холл-коридор</text><text transform="translate(276.4,96.1) scale(0.78,1)" >9,9</text><text transform="translate(314.9,105.8) scale(0.78,1)" >С/У</text><text transform="translate(314.9,110.3) scale(0.78,1)" >4,7</text><text transform="translate(372.4,203.8) scale(0.78,1)" >Кухня-гостиная</text><text transform="translate(372.4,209.6) scale(0.78,1)" >18,1</text><text transform="translate(413.2,198.9) scale(0.78,1)" >Спальня</text><text transform="translate(413.2,204.1) scale(0.78,1)" >15,9</text><text transform="translate(361.9,234.3) scale(0.78,1)" >С/У</text><text transform="translate(361.9,238.8) scale(0.78,1)" >3,9</text><text transform="translate(388.4,233.5) scale(0.78,1)" >Холл</text><text transform="translate(388.4,238.5) scale(0.78,1)" >6,6</text><text transform="translate(420.2,235.1) scale(0.78,1)" >Гардеробная</text><text transform="translate(420.2,240.1) scale(0.78,1)" >4,0</text><text transform="translate(458.9,193) scale(0.78,1)" >Спальня</text><text transform="translate(458.9,197.6) scale(0.78,1)" >17,8</text><text transform="translate(500.1,193) scale(0.78,1)" >Спальня</text><text transform="translate(500.1,197.6) scale(0.78,1)" >17,8</text><text transform="translate(451.9,240.8) scale(0.78,1)" >Гардеробная</text><text transform="translate(451.9,246.1) scale(0.78,1)" >5,1</text><text transform="translate(481.4,244.8) scale(0.78,1)" >Холл</text><text transform="translate(481.4,249.8) scale(0.78,1)" >4,9</text><text transform="translate(513.15,244.3) scale(0.78,1)" >С/У</text><text transform="translate(513.15,248.8) scale(0.78,1)" >5,4</text><text transform="translate(474.4,272.8) scale(0.78,1)" >Холл-коридор</text><text transform="translate(474.4,277.8) scale(0.78,1)" >9,3</text><text transform="translate(454.4,285.8) scale(0.78,1)" >Гардеробная</text><text transform="translate(454.4,290.8) scale(0.78,1)" >2,9</text><text transform="translate(511.9,282.8) scale(0.78,1)" >С/У</text><text transform="translate(511.9,287.3) scale(0.78,1)" >4,6</text><text transform="translate(461.6,313.8) scale(0.78,1)" >Кухня-столовая</text><text transform="translate(461.6,318.8) scale(0.78,1)" >19,6</text><text transform="translate(500.9,329.5) scale(0.78,1)" >Гостиная</text><text transform="translate(500.9,334.1) scale(0.78,1)" >19,6</text><text transform="translate(113.15,226.8) scale(0.78,1)" >Кухня-гостиная</text><text transform="translate(113.15,231.8) scale(0.78,1)" >21,6</text><text transform="translate(160.65,231.3) scale(0.78,1)" >С/У</text><text transform="translate(160.65,235.8) scale(0.78,1)" >3,5</text><text transform="translate(113.6,267.6) scale(0.78,1)" >Спальня</text><text transform="translate(113.6,272.6) scale(0.78,1)" >14,6</text><text transform="translate(155.9,271.8) scale(0.78,1)" >Холл-коридор</text><text transform="translate(155.9,276.8) scale(0.78,1)" >14,7</text><text transform="translate(89.4,306.3) scale(0.78,1)" >С/У</text><text transform="translate(89.4,310.8) scale(0.78,1)" >5,5</text><text transform="translate(116.9,313.8) scale(0.78,1)" >Гардеробная</text><text transform="translate(116.9,318.8) scale(0.78,1)" >3,6</text><text transform="translate(103.4,356.5) scale(0.78,1)" >Спальня</text><text transform="translate(103.4,361.5) scale(0.78,1)" >16,7</text><text transform="translate(146.9,356.5) scale(0.78,1)" >Спальня</text><text transform="translate(146.9,361.5) scale(0.78,1)" >15,3</text><text transform="translate(178.4,298.3) scale(0.78,1)" >Гардеробная</text><text transform="translate(178.4,303.3) scale(0.78,1)" >7,1</text><text transform="translate(205.9,297.8) scale(0.78,1)" >С/У</text><text transform="translate(205.9,302) scale(0.78,1)" >4,7</text><text transform="translate(255.2,299.3) scale(0.78,1)" >Холл</text><text transform="translate(255.2,304.3) scale(0.78,1)" >6,3</text><text transform="translate(221.9,317.3) scale(0.78,1)" >Коридор</text><text transform="translate(221.9,322.3) scale(0.78,1)" >5,0</text><text transform="translate(181.3,357.8) scale(0.78,1)" >Спальня</text><text transform="translate(181.3,362.8) scale(0.78,1)" >15,3</text><text transform="translate(224.4,357.8) scale(0.78,1)" >Спальня</text><text transform="translate(224.4,362.8) scale(0.78,1)" >15,3</text><text transform="translate(273.15,357.8) scale(0.78,1)" >Кухня-гостиная</text><text transform="translate(273.15,362.8) scale(0.78,1)" >19,6</text><text transform="translate(322.7,357.8) scale(0.78,1)" >Кухня-гостиная</text><text transform="translate(322.7,362.8) scale(0.78,1)" >19,6</text><text transform="translate(283.9,297.8) scale(0.78,1)" >С/У</text><text transform="translate(283.9,302.3) scale(0.78,1)" >3,7</text><text transform="translate(313.4,297.8) scale(0.78,1)" >С/У</text><text transform="translate(313.4,302.3) scale(0.78,1)" >3,7</text><text transform="translate(340.4,295.8) scale(0.78,1)" >Холл</text><text transform="translate(340.4,300.8) scale(0.78,1)" >6,3</text><text transform="translate(392.9,298.8) scale(0.78,1)" >С/У</text><text transform="translate(392.9,303.3) scale(0.78,1)" >4,7</text><text transform="translate(420,299.8) scale(0.78,1)" >Гардеробная</text><text transform="translate(420,304.8) scale(0.78,1)" >6,7</text><text transform="translate(361.4,357.8) scale(0.78,1)" >Спальня</text><text transform="translate(361.4,362.8) scale(0.78,1)" >15,3</text><text transform="translate(418.4,357.8) scale(0.78,1)" >Спальня</text><text transform="translate(418.4,362.8) scale(0.78,1)" >15,3</text><text transform="translate(380.4,317.8) scale(0.78,1)" >Коридор</text><text transform="translate(380.4,322.8) scale(0.78,1)" >6,0</text><text transform="translate(252.7,137.3) scale(0.78,1)" >Коридор</text><text transform="translate(252.7,141.3) scale(0.78,1)" >12,4</text><text transform="translate(372.9,269.3) scale(0.78,1)" >Коридор</text><text transform="translate(372.9,275.3) scale(0.78,1)" >19</text><text transform="translate(228.4,192.1) scale(0.9,1)" font-style="italic">Лифт. холл</text><text transform="translate(163.23,140.75) scale(0.95,1)" font-size="5.6" stroke-width="0.3">4</text><text transform="translate(172.73,138.25) scale(0.85,1)" font-size="4.6" stroke-width="0.3">64,0</text><text transform="translate(172.73,143.6) scale(0.85,1)" font-size="4.6" stroke-width="0.3">112,2</text><text transform="translate(277.66,113.2) scale(0.95,1)" font-size="5.6" stroke-width="0.3">2</text><text transform="translate(287.26,110.7) scale(0.85,1)" font-size="4.6" stroke-width="0.3">33,7</text><text transform="translate(287.26,115.9) scale(0.85,1)" font-size="4.6" stroke-width="0.3">79,0</text><text transform="translate(387.55,247.2) scale(0.95,1)" font-size="5.6" stroke-width="0.3">1</text><text transform="translate(397.4,244.7) scale(0.85,1)" font-size="4.6" stroke-width="0.3">15,9</text><text transform="translate(397.4,249.5) scale(0.85,1)" font-size="4.6" stroke-width="0.3">37,4</text><text transform="translate(442.93,267.2) scale(0.95,1)" font-size="5.6" stroke-width="0.3">3</text><text transform="translate(452.43,264.7) scale(0.85,1)" font-size="4.6" stroke-width="0.3">54,6</text><text transform="translate(452.43,269.5) scale(0.85,1)" font-size="4.6" stroke-width="0.3">106,9</text><text transform="translate(145.49,262) scale(0.95,1)" font-size="5.6" stroke-width="0.3">3</text><text transform="translate(155.74,259.5) scale(0.85,1)" font-size="4.6" stroke-width="0.3">45,8</text><text transform="translate(155.74,264.9) scale(0.85,1)" font-size="4.6" stroke-width="0.3">95,5</text><text transform="translate(237.43,290.05) scale(0.95,1)" font-size="5.6" stroke-width="0.3">2</text><text transform="translate(246.93,287.55) scale(0.85,1)" font-size="4.6" stroke-width="0.3">30,6</text><text transform="translate(246.93,292.3) scale(0.85,1)" font-size="4.6" stroke-width="0.3">77,2</text><text transform="translate(349.81,288.25) scale(0.95,1)" font-size="5.6" stroke-width="0.3">2</text><text transform="translate(358.96,285.75) scale(0.85,1)" font-size="4.6" stroke-width="0.3">30,6</text><text transform="translate(358.96,290.8) scale(0.85,1)" font-size="4.6" stroke-width="0.3">76,9</text></g><g font-family="Liberation Sans, sans-serif" fill="#000" font-size="5.2" font-weight="bold" text-anchor="middle" stroke="none" style="opacity:0.35"><text transform="translate(99.4,61.1) scale(0.78,1)" >Спальня</text><text transform="translate(99.4,67.3) scale(0.78,1)" >17,8</text><text transform="translate(142.4,61.1) scale(0.78,1)" >Спальня</text><text transform="translate(142.4,67.3) scale(0.78,1)" >16,3</text><text transform="translate(186.4,61.1) scale(0.78,1)" >Спальня</text><text transform="translate(186.4,67.3) scale(0.78,1)" >16,3</text><text transform="translate(89.1,95.7) scale(0.78,1)" >С/У</text><text transform="translate(89.1,100.1) scale(0.78,1)" >5,0</text><text transform="translate(118.9,89.8) scale(0.78,1)" >Гардеробная</text><text transform="translate(118.9,94.8) scale(0.78,1)" >4,2</text><text transform="translate(157.4,92.8) scale(0.78,1)" >Холл-коридор</text><text transform="translate(157.4,98.8) scale(0.78,1)" >7,8</text><text transform="translate(163.8,115) scale(0.78,1)" >Гардеробная</text><text transform="translate(163.8,120.8) scale(0.78,1)" >3,5</text><text transform="translate(191.9,102.8) scale(0.78,1)" >С/У</text><text transform="translate(191.9,107.3) scale(0.78,1)" >5,1</text><text transform="translate(102.9,128) scale(0.78,1)" >Спальня</text><text transform="translate(102.9,135.2) scale(0.78,1)" >13,8</text><text transform="translate(151.9,137.8) scale(0.78,1)" >Холл</text><text transform="translate(151.9,142.8) scale(0.78,1)" >6,0</text><text transform="translate(131.9,164.3) scale(0.78,1)" >Кухня-гостиная</text><text transform="translate(131.9,169.3) scale(0.78,1)" >21,6</text><text transform="translate(161.4,169.3) scale(0.78,1)" >С/У</text><text transform="translate(161.4,174.3) scale(0.78,1)" >3,5</text><text transform="translate(228.9,61.5) scale(0.78,1)" >Спальня</text><text transform="translate(228.9,66.5) scale(0.78,1)" >16,6</text><text transform="translate(273.7,61.5) scale(0.78,1)" >Спальня</text><text transform="translate(273.7,66.5) scale(0.78,1)" >16,6</text><text transform="translate(318.7,61.5) scale(0.78,1)" >Кухня-гостиная</text><text transform="translate(318.7,66.5) scale(0.78,1)" >22,8</text><text transform="translate(219.4,96.3) scale(0.78,1)" >С/У</text><text transform="translate(219.4,100.8) scale(0.78,1)" >5,2</text><text transform="translate(246.9,106.3) scale(0.78,1)" >Гардеробная</text><text transform="translate(246.9,112) scale(0.78,1)" >3,2</text><text transform="translate(276.4,90.1) scale(0.78,1)" >Холл-коридор</text><text transform="translate(276.4,96.1) scale(0.78,1)" >9,9</text><text transform="translate(314.9,105.8) scale(0.78,1)" >С/У</text><text transform="translate(314.9,110.3) scale(0.78,1)" >4,7</text><text transform="translate(372.4,203.8) scale(0.78,1)" >Кухня-гостиная</text><text transform="translate(372.4,209.6) scale(0.78,1)" >18,1</text><text transform="translate(413.2,198.9) scale(0.78,1)" >Спальня</text><text transform="translate(413.2,204.1) scale(0.78,1)" >15,9</text><text transform="translate(361.9,234.3) scale(0.78,1)" >С/У</text><text transform="translate(361.9,238.8) scale(0.78,1)" >3,9</text><text transform="translate(388.4,233.5) scale(0.78,1)" >Холл</text><text transform="translate(388.4,238.5) scale(0.78,1)" >6,6</text><text transform="translate(420.2,235.1) scale(0.78,1)" >Гардеробная</text><text transform="translate(420.2,240.1) scale(0.78,1)" >4,0</text><text transform="translate(458.9,193) scale(0.78,1)" >Спальня</text><text transform="translate(458.9,197.6) scale(0.78,1)" >17,8</text><text transform="translate(500.1,193) scale(0.78,1)" >Спальня</text><text transform="translate(500.1,197.6) scale(0.78,1)" >17,8</text><text transform="translate(451.9,240.8) scale(0.78,1)" >Гардеробная</text><text transform="translate(451.9,246.1) scale(0.78,1)" >5,1</text><text transform="translate(481.4,244.8) scale(0.78,1)" >Холл</text><text transform="translate(481.4,249.8) scale(0.78,1)" >4,9</text><text transform="translate(513.15,244.3) scale(0.78,1)" >С/У</text><text transform="translate(513.15,248.8) scale(0.78,1)" >5,4</text><text transform="translate(474.4,272.8) scale(0.78,1)" >Холл-коридор</text><text transform="translate(474.4,277.8) scale(0.78,1)" >9,3</text><text transform="translate(454.4,285.8) scale(0.78,1)" >Гардеробная</text><text transform="translate(454.4,290.8) scale(0.78,1)" >2,9</text><text transform="translate(511.9,282.8) scale(0.78,1)" >С/У</text><text transform="translate(511.9,287.3) scale(0.78,1)" >4,6</text><text transform="translate(461.6,313.8) scale(0.78,1)" >Кухня-столовая</text><text transform="translate(461.6,318.8) scale(0.78,1)" >19,6</text><text transform="translate(500.9,329.5) scale(0.78,1)" >Гостиная</text><text transform="translate(500.9,334.1) scale(0.78,1)" >19,6</text><text transform="translate(113.15,226.8) scale(0.78,1)" >Кухня-гостиная</text><text transform="translate(113.15,231.8) scale(0.78,1)" >21,6</text><text transform="translate(160.65,231.3) scale(0.78,1)" >С/У</text><text transform="translate(160.65,235.8) scale(0.78,1)" >3,5</text><text transform="translate(113.6,267.6) scale(0.78,1)" >Спальня</text><text transform="translate(113.6,272.6) scale(0.78,1)" >14,6</text><text transform="translate(155.9,271.8) scale(0.78,1)" >Холл-коридор</text><text transform="translate(155.9,276.8) scale(0.78,1)" >14,7</text><text transform="translate(89.4,306.3) scale(0.78,1)" >С/У</text><text transform="translate(89.4,310.8) scale(0.78,1)" >5,5</text><text transform="translate(116.9,313.8) scale(0.78,1)" >Гардеробная</text><text transform="translate(116.9,318.8) scale(0.78,1)" >3,6</text><text transform="translate(103.4,356.5) scale(0.78,1)" >Спальня</text><text transform="translate(103.4,361.5) scale(0.78,1)" >16,7</text><text transform="translate(146.9,356.5) scale(0.78,1)" >Спальня</text><text transform="translate(146.9,361.5) scale(0.78,1)" >15,3</text><text transform="translate(178.4,298.3) scale(0.78,1)" >Гардеробная</text><text transform="translate(178.4,303.3) scale(0.78,1)" >7,1</text><text transform="translate(205.9,297.8) scale(0.78,1)" >С/У</text><text transform="translate(205.9,302) scale(0.78,1)" >4,7</text><text transform="translate(255.2,299.3) scale(0.78,1)" >Холл</text><text transform="translate(255.2,304.3) scale(0.78,1)" >6,3</text><text transform="translate(221.9,317.3) scale(0.78,1)" >Коридор</text><text transform="translate(221.9,322.3) scale(0.78,1)" >5,0</text><text transform="translate(181.3,357.8) scale(0.78,1)" >Спальня</text><text transform="translate(181.3,362.8) scale(0.78,1)" >15,3</text><text transform="translate(224.4,357.8) scale(0.78,1)" >Спальня</text><text transform="translate(224.4,362.8) scale(0.78,1)" >15,3</text><text transform="translate(273.15,357.8) scale(0.78,1)" >Кухня-гостиная</text><text transform="translate(273.15,362.8) scale(0.78,1)" >19,6</text><text transform="translate(322.7,357.8) scale(0.78,1)" >Кухня-гостиная</text><text transform="translate(322.7,362.8) scale(0.78,1)" >19,6</text><text transform="translate(283.9,297.8) scale(0.78,1)" >С/У</text><text transform="translate(283.9,302.3) scale(0.78,1)" >3,7</text><text transform="translate(313.4,297.8) scale(0.78,1)" >С/У</text><text transform="translate(313.4,302.3) scale(0.78,1)" >3,7</text><text transform="translate(340.4,295.8) scale(0.78,1)" >Холл</text><text transform="translate(340.4,300.8) scale(0.78,1)" >6,3</text><text transform="translate(392.9,298.8) scale(0.78,1)" >С/У</text><text transform="translate(392.9,303.3) scale(0.78,1)" >4,7</text><text transform="translate(420,299.8) scale(0.78,1)" >Гардеробная</text><text transform="translate(420,304.8) scale(0.78,1)" >6,7</text><text transform="translate(361.4,357.8) scale(0.78,1)" >Спальня</text><text transform="translate(361.4,362.8) scale(0.78,1)" >15,3</text><text transform="translate(418.4,357.8) scale(0.78,1)" >Спальня</text><text transform="translate(418.4,362.8) scale(0.78,1)" >15,3</text><text transform="translate(380.4,317.8) scale(0.78,1)" >Коридор</text><text transform="translate(380.4,322.8) scale(0.78,1)" >6,0</text><text transform="translate(252.7,137.3) scale(0.78,1)" >Коридор</text><text transform="translate(252.7,141.3) scale(0.78,1)" >12,4</text><text transform="translate(372.9,269.3) scale(0.78,1)" >Коридор</text><text transform="translate(372.9,275.3) scale(0.78,1)" >19</text><text transform="translate(228.4,192.1) scale(0.9,1)" font-style="italic">Лифт. холл</text><text transform="translate(163.23,140.75) scale(0.95,1)" font-size="5.6" stroke-width="0.15">4</text><text transform="translate(172.73,138.25) scale(0.85,1)" font-size="4.6" stroke-width="0.15">64,0</text><text transform="translate(172.73,143.6) scale(0.85,1)" font-size="4.6" stroke-width="0.15">112,2</text><text transform="translate(277.66,113.2) scale(0.95,1)" font-size="5.6" stroke-width="0.15">2</text><text transform="translate(287.26,110.7) scale(0.85,1)" font-size="4.6" stroke-width="0.15">33,7</text><text transform="translate(287.26,115.9) scale(0.85,1)" font-size="4.6" stroke-width="0.15">79,0</text><text transform="translate(387.55,247.2) scale(0.95,1)" font-size="5.6" stroke-width="0.15">1</text><text transform="translate(397.4,244.7) scale(0.85,1)" font-size="4.6" stroke-width="0.15">15,9</text><text transform="translate(397.4,249.5) scale(0.85,1)" font-size="4.6" stroke-width="0.15">37,4</text><text transform="translate(442.93,267.2) scale(0.95,1)" font-size="5.6" stroke-width="0.15">3</text><text transform="translate(452.43,264.7) scale(0.85,1)" font-size="4.6" stroke-width="0.15">54,6</text><text transform="translate(452.43,269.5) scale(0.85,1)" font-size="4.6" stroke-width="0.15">106,9</text><text transform="translate(145.49,262) scale(0.95,1)" font-size="5.6" stroke-width="0.15">3</text><text transform="translate(155.74,259.5) scale(0.85,1)" font-size="4.6" stroke-width="0.15">45,8</text><text transform="translate(155.74,264.9) scale(0.85,1)" font-size="4.6" stroke-width="0.15">95,5</text><text transform="translate(237.43,290.05) scale(0.95,1)" font-size="5.6" stroke-width="0.15">2</text><text transform="translate(246.93,287.55) scale(0.85,1)" font-size="4.6" stroke-width="0.15">30,6</text><text transform="translate(246.93,292.3) scale(0.85,1)" font-size="4.6" stroke-width="0.15">77,2</text><text transform="translate(349.81,288.25) scale(0.95,1)" font-size="5.6" stroke-width="0.15">2</text><text transform="translate(358.96,285.75) scale(0.85,1)" font-size="4.6" stroke-width="0.15">30,6</text><text transform="translate(358.96,290.8) scale(0.85,1)" font-size="4.6" stroke-width="0.15">76,9</text></g></svg></body></html>
